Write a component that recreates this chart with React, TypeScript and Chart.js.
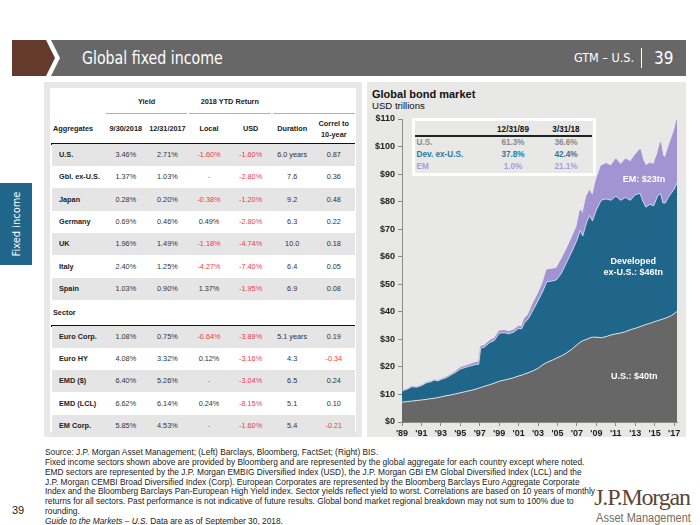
import React, { useEffect, useLayoutEffect, useRef } from "react";
import { Chart, registerables } from "chart.js";

Chart.register(...registerables);

// ---------- Chart data (USD trillions) ----------
const dates = [
  1989.0, 1989.5, 1990.0, 1990.5, 1991.0, 1991.5, 1992.0, 1992.3, 1992.7, 1993.0,
  1993.5, 1994.0, 1994.5, 1995.0, 1995.5, 1996.0, 1996.5, 1996.9, 1997.1, 1997.5,
  1998.0, 1998.5, 1999.0, 1999.5, 2000.0, 2000.5, 2001.0, 2001.3, 2001.6, 2002.0,
  2002.5, 2003.0, 2003.5, 2003.9, 2004.5, 2004.9, 2005.4, 2005.9, 2006.5, 2007.0,
  2007.35, 2007.6, 2008.0, 2008.3, 2008.6, 2009.0, 2009.5, 2010.0, 2010.5, 2011.0,
  2011.5, 2012.0, 2012.5, 2013.0, 2013.5, 2013.8, 2014.1, 2014.5, 2014.9, 2015.3,
  2015.6, 2015.85, 2016.1, 2016.4, 2016.7, 2017.0, 2017.3,
];
const usValues = [
  7.2, 7.4, 7.6, 7.8, 8.0, 8.2, 8.5, 8.6, 8.9, 9.1,
  9.5, 9.8, 10.2, 10.6, 11.0, 11.4, 11.8, 12.3, 12.5, 13.0,
  13.5, 14.1, 14.8, 15.2, 15.6, 16.1, 16.7, 17.0, 17.4, 17.9,
  18.6, 19.5, 20.8, 21.6, 22.5, 23.2, 24.0, 25.0, 26.5, 28.0,
  29.0, 29.5, 30.0, 30.5, 30.8, 30.8, 30.6, 31.0, 31.6, 32.0,
  32.3, 32.8, 33.5, 34.0, 34.6, 35.0, 35.4, 35.8, 36.3, 36.8,
  37.1, 37.4, 37.7, 38.1, 38.6, 39.3, 40.1,
];
const devExUsValues = [
  4.1, 4.4, 5.2, 4.8, 5.2, 6.0, 6.1, 6.6, 6.0, 6.3,
  6.5, 7.2, 7.8, 8.6, 8.8, 8.9, 9.0, 8.7, 14.3, 14.2,
  15.3, 15.5, 17.4, 17.2, 16.4, 16.5, 17.3, 16.8, 18.6, 19.6,
  22.1, 24.5, 26.7, 29.3, 28.7, 28.4, 30.0, 32.6, 35.5, 38.0,
  40.5, 38.0, 42.5, 44.5, 42.2, 46.2, 49.9, 50.0, 48.9, 50.0,
  48.2, 48.7, 47.0, 48.5, 48.4, 45.0, 42.6, 43.2, 42.2, 45.2,
  45.9, 42.1, 41.8, 43.4, 44.4, 45.2, 46.7,
];
const emValues = [
  0.1, 0.1, 0.1, 0.1, 0.1, 0.1, 0.1, 0.1, 0.1, 0.1,
  0.2, 0.2, 0.3, 0.5, 0.5, 0.6, 0.7, 0.8, 0.6, 0.7,
  0.7, 0.8, 0.8, 0.8, 0.8, 0.8, 0.8, 0.8, 1.5, 1.5,
  2.4, 2.5, 3.0, 4.3, 4.3, 4.2, 5.0, 4.8, 5.0, 5.0,
  7.5, 8.0, 9.5, 9.0, 9.0, 11.0, 12.5, 12.8, 12.5, 13.5,
  13.0, 14.0, 14.0, 14.5, 16.0, 15.0, 15.0, 15.0, 15.0, 15.5,
  18.5, 17.0, 16.5, 18.0, 19.5, 21.0, 22.9,
];
const xTickYears = [1989, 1991, 1993, 1995, 1997, 1999, 2001, 2003, 2005, 2007, 2009, 2011, 2013, 2015, 2017];

// Inset share table
const shareRegions = ["U.S.", "Dev. ex-U.S.", "EM"];
const share1989 = ["61.3%", "37.8%", "1.0%"];
const share2018 = ["36.6%", "42.4%", "21.1%"];
const shareHeaders = ["12/31/89", "3/31/18"];

// ---------- Table data ----------
const aggregates = ["U.S.", "Gbl. ex-U.S.", "Japan", "Germany", "UK", "Italy", "Spain"];
const aggYield2018 = ["3.46%", "1.37%", "0.28%", "0.69%", "1.96%", "2.40%", "1.03%"];
const aggYield2017 = ["2.71%", "1.03%", "0.20%", "0.46%", "1.49%", "1.25%", "0.90%"];
const aggLocal = ["-1.60%", "-", "-0.38%", "0.49%", "-1.18%", "-4.27%", "1.37%"];
const aggUsd = ["-1.60%", "-2.80%", "-1.20%", "-2.80%", "-4.74%", "-7.40%", "-1.95%"];
const aggDuration = ["6.0 years", "7.6", "9.2", "6.3", "10.0", "6.4", "6.9"];
const aggCorrel = ["0.87", "0.36", "0.48", "0.22", "0.18", "0.05", "0.08"];

const sectors = ["Euro Corp.", "Euro HY", "EMD ($)", "EMD (LCL)", "EM Corp."];
const secYield2018 = ["1.08%", "4.08%", "6.40%", "6.62%", "5.85%"];
const secYield2017 = ["0.75%", "3.32%", "5.26%", "6.14%", "4.53%"];
const secLocal = ["-0.64%", "0.12%", "-", "0.24%", "-"];
const secUsd = ["-3.89%", "-3.16%", "-3.04%", "-8.15%", "-1.60%"];
const secDuration = ["5.1 years", "4.3", "6.5", "5.1", "5.4"];
const secCorrel = ["0.19", "-0.34", "0.24", "0.10", "-0.21"];

const colHeaders = ["9/30/2018", "12/31/2017", "Local", "USD", "Duration"];

const footnotes = [
  "Source: J.P. Morgan Asset Management; (Left) Barclays, Bloomberg, FactSet; (Right) BIS.",
  "Fixed income sectors shown above are provided by Bloomberg and are represented by the global aggregate for each country except where noted.",
  "EMD sectors are represented by the J.P. Morgan EMBIG Diversified Index (USD), the J.P. Morgan GBI EM Global Diversified Index (LCL) and the",
  "J.P. Morgan CEMBI Broad Diversified Index (Corp). European Corporates are represented by the Bloomberg Barclays Euro Aggregate Corporate",
  "Index and the Bloomberg Barclays Pan-European High Yield index. Sector yields reflect yield to worst. Correlations are based on 10 years of monthly",
  "returns for all sectors. Past performance is not indicative of future results. Global bond market regional breakdown may not sum to 100% due to",
  "rounding.",
];

const ARIAL = "'Liberation Sans', Arial, sans-serif";
const COND = "'DejaVu Sans Condensed', 'Liberation Sans', sans-serif";
const US_COLOR = "#676767";
const DEV_COLOR = "#20668a";
const EM_COLOR = "#a293d3";
const RED = "#ee3a48";

const areaLabelsPlugin = {
  id: "areaLabels",
  afterDatasetsDraw(chart: any) {
    const { ctx, scales } = chart;
    const items = [
      { t: "EM: $23tn", x: 2013.9, y: 88.1 },
      { t: "Developed", x: 2012.8, y: 58.4 },
      { t: "ex-U.S.: $46tn", x: 2012.8, y: 54.1 },
      { t: "U.S.: $40tn", x: 2012.9, y: 16.5 },
    ];
    ctx.save();
    ctx.fillStyle = "#ffffff";
    ctx.font = `bold 9px ${ARIAL}`;
    ctx.textAlign = "center";
    ctx.textBaseline = "middle";
    for (const it of items) {
      ctx.fillText(it.t, scales.x.getPixelForValue(it.x), scales.y.getPixelForValue(it.y));
    }
    ctx.restore();
  },
};

function BondChart() {
  const ref = useRef<HTMLCanvasElement | null>(null);
  useEffect(() => {
    if (!ref.current) return;
    const mk = (vals: number[]) => dates.map((d, i) => ({ x: d, y: vals[i] }));
    const chart = new Chart(ref.current, {
      type: "line",
      data: {
        datasets: [
          {
            label: "U.S.",
            data: mk(usValues),
            backgroundColor: US_COLOR,
            borderColor: "rgba(255,255,255,0.75)",
            borderWidth: 1,
            fill: "origin",
            pointRadius: 0,
            tension: 0,
          },
          {
            label: "Dev. ex-U.S.",
            data: mk(devExUsValues),
            backgroundColor: DEV_COLOR,
            borderColor: "rgba(255,255,255,0.6)",
            borderWidth: 1,
            fill: "-1",
            pointRadius: 0,
            tension: 0,
          },
          {
            label: "EM",
            data: mk(emValues),
            backgroundColor: EM_COLOR,
            borderColor: EM_COLOR,
            borderWidth: 1,
            fill: "-1",
            pointRadius: 0,
            tension: 0,
          },
        ],
      },
      options: {
        animation: false,
        responsive: false,
        maintainAspectRatio: false,
        layout: { padding: { top: 9, right: 9, left: 0, bottom: 0 } },
        plugins: { legend: { display: false }, tooltip: { enabled: false } },
        elements: { line: { borderJoinStyle: "round" } },
        scales: {
          x: {
            type: "linear",
            min: 1989,
            max: 2017.3,
            afterFit: (s: any) => {
              s.height = 23;
            },
            afterBuildTicks: (s: any) => {
              s.ticks = xTickYears.map((v) => ({ value: v }));
            },
            ticks: {
              autoSkip: false,
              maxRotation: 0,
              color: "#222",
              font: { family: ARIAL, size: 9, weight: "bold" },
              padding: 2,
              callback: (v: any) => "'" + String(v).slice(2),
            },
            grid: { display: true, drawOnChartArea: false, drawTicks: true, tickLength: 4, color: "#8a8a8a" },
            border: { display: true, color: "#8a8a8a" },
          },
          y: {
            stacked: true,
            min: 0,
            max: 110,
            afterFit: (s: any) => {
              s.width = 35;
            },
            ticks: {
              stepSize: 10,
              color: "#222",
              font: { family: ARIAL, size: 9, weight: "bold" },
              padding: 3,
              callback: (v: any) => "$" + v,
            },
            grid: { display: true, drawOnChartArea: false, drawTicks: true, tickLength: 4, color: "#8a8a8a" },
            border: { display: true, color: "#8a8a8a" },
          },
        },
      },
      plugins: [areaLabelsPlugin],
    } as any);
    return () => chart.destroy();
  }, []);
  return <canvas ref={ref} width={319} height={335} style={{ position: "absolute", left: 367, top: 110 }} />;
}

const abs = (o: any): React.CSSProperties => ({ position: "absolute", ...o });

function Txt(props: { x: number; y: number; w: number; align?: any; children: any; style?: any }) {
  const { x, y, w, align = "center", children, style } = props;
  return (
    <div
      style={abs({
        left: x,
        top: y - 6,
        width: w,
        height: 12,
        lineHeight: "12px",
        textAlign: align,
        whiteSpace: "nowrap",
        ...style,
      })}
    >
      {children}
    </div>
  );
}

const COL0 = 51;
const COL0W = 54;
const COLW = 41.6;
const colX = (i: number) => 105 + i * COLW;

function isNeg(s: string) {
  return /^-\d/.test(s);
}

function DataRow(props: { y: number; label: string; vals: string[]; shaded: boolean }) {
  const { y, label, vals, shaded } = props;
  return (
    <>
      {shaded && <div style={abs({ left: 51.5, top: y - 11.15, width: 303.5, height: 22.3, background: "#e5e5e5" })} />}
      <Txt x={COL0 + 8} y={y} w={COL0W} align="left" style={{ fontWeight: "bold", color: "#222" }}>
        {label}
      </Txt>
      {vals.map((v, i) => (
        <Txt key={i} x={colX(i)} y={y} w={COLW} style={{ color: isNeg(v) ? RED : v === "-" ? "#888" : "#333" }}>
          {v}
        </Txt>
      ))}
    </>
  );
}

function FixedIncomeTable() {
  const rowH = 22.3;
  const aggY0 = 155;
  const secY0 = 336.7;
  return (
    <div style={abs({ left: 0, top: 0, fontFamily: ARIAL, fontSize: 7.3 })}>
      <div style={abs({ left: 44, top: 82, width: 318, height: 355, background: "#e8e8e8" })} />
      <div style={abs({ left: 50, top: 88, width: 306, height: 344, background: "#ffffff" })} />
      <Txt x={colX(0)} y={102} w={COLW * 2} style={{ fontWeight: "bold", color: "#222" }}>
        Yield
      </Txt>
      <Txt x={colX(2)} y={102} w={COLW * 2} style={{ fontWeight: "bold", color: "#222" }}>
        2018 YTD Return
      </Txt>
      <div style={abs({ left: 106, top: 112.5, width: 81, height: 1, background: "#b0b0b0" })} />
      <div style={abs({ left: 189, top: 112.5, width: 82, height: 1, background: "#b0b0b0" })} />
      <div style={abs({ left: 273, top: 112.5, width: 82, height: 1, background: "#b0b0b0" })} />
      <Txt x={53} y={129} w={60} align="left" style={{ fontWeight: "bold", color: "#222" }}>
        Aggregates
      </Txt>
      {colHeaders.map((h, i) => (
        <Txt key={h} x={colX(i)} y={129} w={COLW} style={{ fontWeight: "bold", color: "#222" }}>
          {h}
        </Txt>
      ))}
      <Txt x={colX(5)} y={124} w={COLW} style={{ fontWeight: "bold", color: "#222" }}>
        Correl to
      </Txt>
      <Txt x={colX(5)} y={135} w={COLW} style={{ fontWeight: "bold", color: "#222" }}>
        10-year
      </Txt>
      <div style={abs({ left: 51, top: 142.5, width: 304, height: 2, background: "#111" })} />
      {aggregates.map((a, i) => (
        <DataRow
          key={a}
          y={aggY0 + i * rowH}
          label={a}
          shaded={i % 2 === 0}
          vals={[aggYield2018[i], aggYield2017[i], aggLocal[i], aggUsd[i], aggDuration[i], aggCorrel[i]]}
        />
      ))}
      <Txt x={53} y={312.7} w={60} align="left" style={{ fontWeight: "bold", color: "#222" }}>
        Sector
      </Txt>
      <div style={abs({ left: 51, top: 324.5, width: 304, height: 2, background: "#111" })} />
      {sectors.map((s, i) => (
        <DataRow
          key={s}
          y={secY0 + i * rowH}
          label={s}
          shaded={i % 2 === 0}
          vals={[secYield2018[i], secYield2017[i], secLocal[i], secUsd[i], secDuration[i], secCorrel[i]]}
        />
      ))}
    </div>
  );
}

function ShareInset() {
  const colors = ["#8a8a8a", "#2b7aa0", "#ab9ddc"];
  const rowsY = [142.7, 155.3, 166.7];
  return (
    <div style={abs({ left: 0, top: 0, fontFamily: ARIAL, fontSize: 8.2, fontWeight: "bold" })}>
      <div style={abs({ left: 412, top: 118, width: 184, height: 58, background: "#ffffff" })} />
      <div style={abs({ left: 415, top: 121, width: 178, height: 52, background: "#e8e8e6" })} />
      <Txt x={486} y={130} w={54} style={{ color: "#111" }}>
        {shareHeaders[0]}
      </Txt>
      <Txt x={539} y={130} w={54} style={{ color: "#111" }}>
        {shareHeaders[1]}
      </Txt>
      <div style={abs({ left: 415, top: 135, width: 177, height: 1.6, background: "#222" })} />
      {shareRegions.map((r, i) => (
        <React.Fragment key={r}>
          <Txt x={416.5} y={rowsY[i]} w={70} align="left" style={{ color: colors[i] }}>
            {r}
          </Txt>
          <Txt x={486} y={rowsY[i]} w={54} style={{ color: colors[i] }}>
            {share1989[i]}
          </Txt>
          <Txt x={539} y={rowsY[i]} w={54} style={{ color: colors[i] }}>
            {share2018[i]}
          </Txt>
        </React.Fragment>
      ))}
    </div>
  );
}

function Footer() {
  const ref = useRef<HTMLDivElement | null>(null);
  useLayoutEffect(() => {
    const el = ref.current;
    if (!el) return;
    let maxW = 0;
    Array.from(el.children).forEach((c: any) => {
      const span = c.firstChild as HTMLElement;
      if (span && span.getBoundingClientRect) maxW = Math.max(maxW, span.getBoundingClientRect().width);
    });
    if (maxW > 0) el.style.transform = `scaleX(${550 / maxW})`;
  }, []);
  return (
    <div
      ref={ref}
      style={abs({
        left: 45,
        top: 448,
        fontSize: 9,
        lineHeight: "9.85px",
        fontFamily: ARIAL,
        color: "#222",
        whiteSpace: "nowrap",
        transformOrigin: "0 0",
      })}
    >
      {footnotes.map((f, i) => (
        <div key={i}>
          <span>{f}</span>
        </div>
      ))}
      <div>
        <span>
          <i>Guide to the Markets – U.S.</i> Data are as of September 30, 2018.
        </span>
      </div>
    </div>
  );
}

export default function App() {
  return (
    <div
      style={{
        position: "fixed",
        left: 0,
        top: 0,
        width: 700,
        height: 525,
        background: "#ffffff",
        overflow: "hidden",
        fontFamily: ARIAL,
      }}
    >
      <svg width={700} height={90} style={abs({ left: 0, top: 0 })}>
        <polygon points="12,40 46,40 55,58 46,76 12,76" fill="#633a2b" />
        <polygon points="51,40 686,40 686,76 51,76 60,58" fill="#676767" />
      </svg>
      <div
        style={abs({
          left: 82,
          top: 46,
          height: 24,
          lineHeight: "24px",
          color: "#fff",
          fontSize: 17.5,
          fontFamily: COND,
          whiteSpace: "nowrap",
          transform: "scaleX(0.9)",
          transformOrigin: "0 50%",
        })}
      >
        Global fixed income
      </div>
      <div style={abs({ left: 560, top: 46, width: 74, height: 24, lineHeight: "24px", textAlign: "right", color: "#fff", fontSize: 12.5, fontFamily: COND })}>
        GTM – U.S.
      </div>
      <div style={abs({ left: 641, top: 48, width: 1.2, height: 20, background: "#fff" })} />
      <div style={abs({ left: 654, top: 46, height: 24, lineHeight: "24px", color: "#fff", fontSize: 17, fontFamily: COND })}>
        39
      </div>

      <div style={abs({ left: 0, top: 183, width: 32, height: 82, background: "#20668a" })} />
      <div
        style={abs({
          left: 16,
          top: 224,
          color: "#fff",
          fontSize: 11,
          fontFamily: COND,
          whiteSpace: "nowrap",
          transform: "translate(-50%, -50%) rotate(-90deg)",
        })}
      >
        Fixed income
      </div>

      <FixedIncomeTable />

      <div style={abs({ left: 367, top: 82, width: 319, height: 355, background: "#e8e8e6" })} />
      <div style={abs({ left: 372, top: 87, fontSize: 11, fontWeight: "bold", color: "#111", lineHeight: "14px" })}>
        Global bond market
      </div>
      <div style={abs({ left: 372, top: 100, fontSize: 9.6, color: "#111", lineHeight: "12px" })}>USD trillions</div>
      <BondChart />
      <ShareInset />

      <Footer />
      <div style={abs({ left: 12, top: 503, fontSize: 11, color: "#222", lineHeight: "14px" })}>39</div>
      <div
        style={abs({
          left: 592,
          top: 484,
          width: 100,
          textAlign: "center",
          fontFamily: "'Liberation Serif', 'DejaVu Serif', serif",
          fontSize: 24,
          letterSpacing: -1.2,
          color: "#5a4636",
          lineHeight: "26px",
          whiteSpace: "nowrap",
        })}
      >
        J.P.Morgan
      </div>
      <div
        style={abs({
          left: 590,
          top: 511,
          width: 102,
          textAlign: "center",
          fontFamily: ARIAL,
          fontSize: 12.5,
          color: "#7a6a5c",
          lineHeight: "14px",
          whiteSpace: "nowrap",
          transform: "scaleX(0.88)",
          transformOrigin: "50% 50%",
        })}
      >
        Asset Management
      </div>
    </div>
  );
}
